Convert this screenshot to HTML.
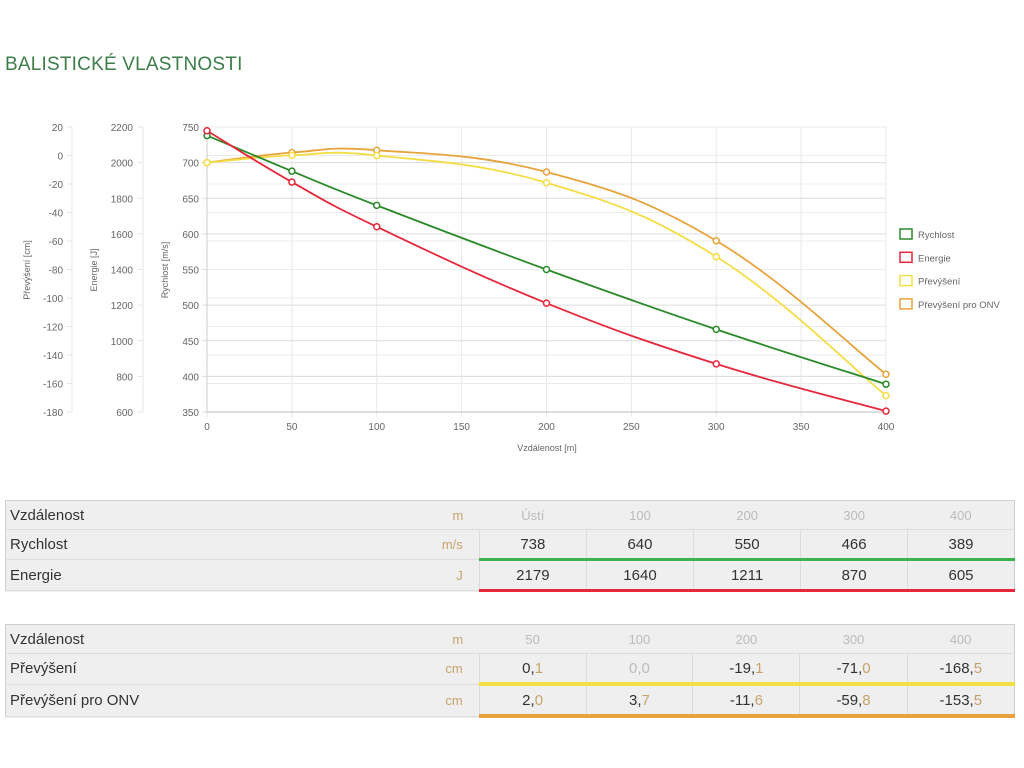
<!DOCTYPE html>
<html><head><meta charset="utf-8">
<style>
body{margin:0;background:#fff;font-family:"Liberation Sans",sans-serif;width:1024px;height:768px;overflow:hidden;position:relative}
h1{position:absolute;left:5px;top:54px;margin:0;font-weight:normal;font-size:19px;color:#3d7d4a;letter-spacing:0.2px}
svg{position:absolute;left:0;top:0}
table{position:absolute;left:5px;width:1010px;border-collapse:collapse;background:#efefef;border:1px solid #cfcfcf;font-size:15px;color:#333}
td{height:28px;padding:0;border-bottom:1px solid #dcdcdc}
td.l{padding-left:4px;width:420px}
td.u{text-align:right;color:#c7a36a;font-size:13px;padding-right:16px;width:42px}
td.v{text-align:center;width:108px;border-left:1px solid #dcdcdc}
tr.h td.v{color:#bbb;font-size:13px;border-left:none}
tr.g td.v{border-bottom:3px solid #3cb44b}
tr.r td.v{border-bottom:3px solid #e5283b}
tr.y td.v{border-bottom:4px solid #f5dd45}
tr.o td.v{border-bottom:4px solid #e8a33c}
.d{color:#c7a36a}
.gr{color:#bbb}
</style></head><body>
<h1>BALISTICKÉ VLASTNOSTI</h1>
<svg id="chart" width="1024" height="470"></svg>

<table style="top:500px">
<tr class="h"><td class="l">Vzdálenost</td><td class="u">m</td><td class="v">Ústí</td><td class="v">100</td><td class="v">200</td><td class="v">300</td><td class="v">400</td></tr>
<tr class="g"><td class="l">Rychlost</td><td class="u">m/s</td><td class="v">738</td><td class="v">640</td><td class="v">550</td><td class="v">466</td><td class="v">389</td></tr>
<tr class="r"><td class="l">Energie</td><td class="u">J</td><td class="v">2179</td><td class="v">1640</td><td class="v">1211</td><td class="v">870</td><td class="v">605</td></tr>
</table>

<table style="top:624px">
<tr class="h"><td class="l">Vzdálenost</td><td class="u">m</td><td class="v">50</td><td class="v">100</td><td class="v">200</td><td class="v">300</td><td class="v">400</td></tr>
<tr class="y"><td class="l">Převýšení</td><td class="u">cm</td><td class="v">0,<span class="d">1</span></td><td class="v gr">0,0</td><td class="v">-19,<span class="d">1</span></td><td class="v">-71,<span class="d">0</span></td><td class="v">-168,<span class="d">5</span></td></tr>
<tr class="o"><td class="l">Převýšení pro ONV</td><td class="u">cm</td><td class="v">2,<span class="d">0</span></td><td class="v">3,<span class="d">7</span></td><td class="v">-11,<span class="d">6</span></td><td class="v">-59,<span class="d">8</span></td><td class="v">-153,<span class="d">5</span></td></tr>
</table>

<script>
const distances=[0,50,100,200,300,400];
const velocity=[738,688,640,550,466,389];
const energy=[2179,1891,1640,1211,870,605];
const drop=[-5,0.1,0,-19.1,-71,-168.5];
const dropOnv=[-5,2,3.7,-11.6,-59.8,-153.5];
const xTicks=[0,50,100,150,200,250,300,350,400];
const vTicks=[750,700,650,600,550,500,450,400,350];
const eTicks=[2200,2000,1800,1600,1400,1200,1000,800,600];
const dTicks=[20,0,-20,-40,-60,-80,-100,-120,-140,-160,-180];
const legendLabels=["Rychlost","Energie","Převýšení","Převýšení pro ONV"];

const svg=document.getElementById('chart');
const NS='http://www.w3.org/2000/svg';
const X0=207,X1=886,Y0=127,Y1=412;
const xS=v=>X0+(v-0)/400*(X1-X0);
const vS=v=>Y1-(v-350)/400*(Y1-Y0);
const eS=v=>Y1-(v-600)/1600*(Y1-Y0);
const dS=v=>Y1-(v+180)/200*(Y1-Y0);
function el(t,a,p){const e=document.createElementNS(NS,t);for(const k in a)e.setAttribute(k,a[k]);(p||svg).appendChild(e);return e;}
function txt(s,a){const e=el('text',Object.assign({'font-family':'Liberation Sans, sans-serif','font-size':'10','fill':'#666'},a));e.textContent=s;return e;}

// grid
xTicks.forEach(t=>{const l=el('line',{x1:xS(t),x2:xS(t),y1:Y0,y2:Y1+5,stroke:'#e8e8e8'});


const tx=txt(t,{x:xS(t),y:Y1+18,'text-anchor':'middle'});

});
vTicks.forEach(t=>{const l=el('line',{x1:X0-5,x2:X1,y1:vS(t),y2:vS(t),stroke:'#dcdcdc'});


const tx=txt(t,{x:199,y:vS(t)+4,'text-anchor':'end'});

});
dTicks.forEach(t=>{const l=el('line',{x1:X0,x2:X1,y1:dS(t),y2:dS(t),stroke:'#ececec'});


el('line',{x1:67,x2:72,y1:dS(t),y2:dS(t),stroke:'#e4e4e4'});
const tx=txt(t,{x:63,y:dS(t)+4,'text-anchor':'end'});

});
eTicks.forEach(t=>{el('line',{x1:138,x2:143,y1:eS(t),y2:eS(t),stroke:'#e4e4e4'});
const tx=txt(t,{x:133,y:eS(t)+4,'text-anchor':'end'});

});
el('line',{x1:72,x2:72,y1:Y0,y2:Y1,stroke:'#e4e4e4'});
el('line',{x1:143,x2:143,y1:Y0,y2:Y1,stroke:'#e4e4e4'});
el('line',{x1:X0,x2:X0,y1:Y0,y2:Y1,stroke:'#ccc'});
el('line',{x1:X1,x2:X1,y1:Y0,y2:Y1,stroke:'#e8e8e8'});
el('line',{x1:X0,x2:X1,y1:Y1,y2:Y1,stroke:'#bbb'});
// axis titles
[[30,270,'Převýšení [cm]','drop-axis-title'],[97,270,'Energie [J]','energy-axis-title'],[168,270,'Rychlost [m/s]','velocity-axis-title']].forEach(a=>{
const t=txt(a[2],{x:a[0],y:a[1],'text-anchor':'middle',transform:`rotate(-90 ${a[0]} ${a[1]})`,'font-size':'9'});

});
const xt=txt('Vzdálenost [m]',{x:547,y:451,'text-anchor':'middle','font-size':'9'});



function path(pts){let d=`M${pts[0][0]},${pts[0][1]}`;const k=0.2;
for(let i=0;i<pts.length-1;i++){const p0=pts[i-1]||pts[i],p1=pts[i],p2=pts[i+1],p3=pts[i+2]||p2;
d+=` C${p1[0]+(p2[0]-p0[0])*k},${p1[1]+(p2[1]-p0[1])*k} ${p2[0]-(p3[0]-p1[0])*k},${p2[1]-(p3[1]-p1[1])*k} ${p2[0]},${p2[1]}`;}return d;}
const series=[[dropOnv,dS,'#e8a33c','drop-onv'],[drop,dS,'#f5dd45','drop'],[velocity,vS,'#2a8a2a','velocity'],[energy,eS,'#e5283b','energy']];
series.forEach(s=>{const pts=distances.map((d,i)=>[xS(d),s[1](s[0][i])]);
const p=el('path',{d:path(pts),fill:'none',stroke:s[2],'stroke-width':'1.8'});


pts.forEach(q=>{const c=el('circle',{cx:q[0],cy:q[1],r:3,fill:'#fff',stroke:s[2],'stroke-width':'1.5'});

});});
// legend
const lc=['#2a8a2a','#e5283b','#f5dd45','#e8a33c'];
legendLabels.forEach((l,i)=>{const y=234+i*23.3;
const r=el('rect',{x:900,y:y-5,width:12,height:10,fill:'#fff',stroke:lc[i],'stroke-width':'1.5'});


const t=txt(l,{x:918,y:y+4,'font-size':'9.5'});

});
</script>
</body></html>
